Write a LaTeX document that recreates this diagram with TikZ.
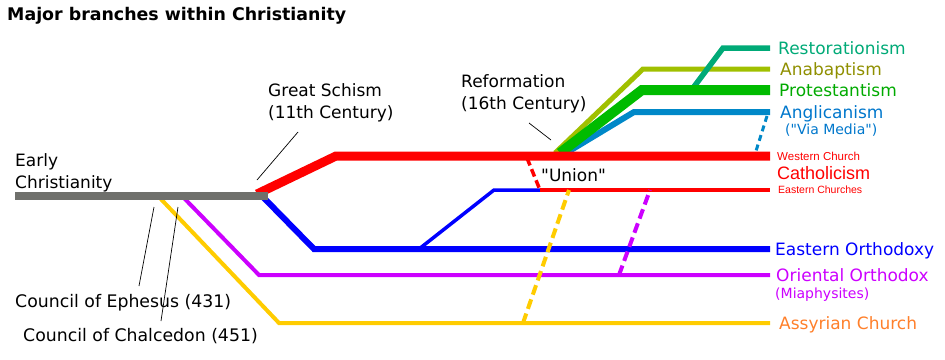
\documentclass[tikz,border=0pt]{standalone}
\usepackage{fontspec}
\setmainfont{DejaVu Sans}[Ligatures=TeXOff]
\newfontfamily\arialfont{Liberation Sans}
\usetikzlibrary{positioning}
\definecolor{earlygray}{HTML}{6F706C}
\definecolor{westred}{HTML}{FF0000}
\definecolor{eastblue}{HTML}{0000FF}
\definecolor{orientpurple}{HTML}{CC00FF}
\definecolor{assyryellow}{HTML}{FFCC00}
\definecolor{assyrorange}{HTML}{FF7F2A}
\definecolor{protgreen}{HTML}{00BB00}
\definecolor{prottext}{HTML}{00AA00}
\definecolor{anabline}{HTML}{A0C000}
\definecolor{anabtext}{HTML}{8F8F00}
\definecolor{restteal}{HTML}{00AA77}
\definecolor{anglline}{HTML}{0088C8}
\definecolor{angltext}{HTML}{0077CC}
\tikzstyle{branch} = [line width=4pt,
line join=miter]
\tikzstyle{uniondash} = [dash pattern=on 10pt off 5pt]
\tikzstyle{pointer} = [line width=0.7pt,
draw=black]
\tikzstyle{branchname} = [anchor=west,
inner sep=0pt,
text height=12.4pt,
text depth=0pt,
font=\fontsize{17}{21}\selectfont]
\tikzstyle{subbranch} = [anchor=west,
inner sep=0pt,
text height=10.2pt,
text depth=0pt,
font=\fontsize{14}{17}\selectfont]
\tikzstyle{note} = [align=left,
inner sep=0pt,
anchor=north west,
font=\fontsize{17}{22}\selectfont]
\tikzstyle{council} = [anchor=base west,
inner sep=0pt,
font=\fontsize{17.3}{21}\selectfont]

\begin{document}
\begin{tikzpicture}[x=1pt, y=-1pt]
\useasboundingbox (0,0) rectangle (945,359);

\node (title) [anchor=base west, inner sep=0pt, font=\fontsize{17.4}{21}\selectfont\bfseries] at (7,20) {Major branches within Christianity};

% ends of the lines on the right
\coordinate (restend) at (770,48);
\coordinate (anabend) at (770,69);
\coordinate (protend) at (770,90);
\coordinate (anglend) at (770,112);
\coordinate (westend) at (770,156);
\coordinate (eastchend) at (770,190);
\coordinate (orthend) at (770,249);
\coordinate (orientend) at (770,275);
\coordinate (assyrend) at (770,323);

% Reformation fan
\draw [branch, anglline, line width=6pt] (566,153) -- (634,112) -- (anglend);
\draw [branch, anabline, line width=5pt] (555,153) -- (643,69) -- (anabend);
\draw [branch, restteal, line width=5.5pt] (690,92) -- (723,48) -- (restend);
\draw [branch, protgreen, line width=10pt] (560,153) -- (642,90) -- (protend);
\draw [branch, anglline, line width=3pt, dash pattern=on 6pt off 4pt] (767,116) -- (756,151);

% east and west
\draw [branch, assyryellow] (158,196) -- (279,323) -- (assyrend);
\draw [branch, orientpurple] (182,196) -- (259,275) -- (orientend);
\draw [branch, eastblue, line width=6pt] (262,196) -- (314,249) -- (orthend);
\draw [branch, eastblue, line width=3.5pt] (419,249) -- (494,190) -- (540,190);
\draw [branch, westred, line width=9pt] (257,194) -- (336,156) -- (westend);
\draw [branch, westred, line width=3.5pt, dash pattern=on 8pt off 4pt] (527,158) -- (540,190);
\draw [branch, westred] (540,190) -- (eastchend);
\draw [branch, assyryellow, uniondash] (523,323) -- (569,190);
\draw [branch, orientpurple, uniondash] (619,275) -- (650,190);
\draw [earlygray, line width=8pt] (15,196) -- (268,196);

% labels
\node (rest) [branchname, restteal, right=8pt of restend] {Restorationism};
\node (anab) [branchname, anabtext, right=10pt of anabend] {Anabaptism};
\node (prot) [branchname, prottext, right=9pt of protend] {Protestantism};
\node (angl) [branchname, angltext, right=10pt of anglend] {Anglicanism};
\node (viamedia) [subbranch, angltext] at (785,129) {("Via Media")};
\node (western) [anchor=west, inner sep=0pt, westred, font=\arialfont\fontsize{11.5}{12}\selectfont, right=7pt of westend] {Western Church};
\node (catholic) [anchor=west, inner sep=0pt, westred, font=\arialfont\fontsize{18}{20}\selectfont] at (777,173) {Catholicism};
\node (eastch) [anchor=west, inner sep=0pt, westred, font=\arialfont\fontsize{10.5}{12}\selectfont, right=8pt of eastchend] {Eastern Churches};
\node (orth) [branchname, eastblue, right=5pt of orthend] {Eastern Orthodoxy};
\node (orient) [branchname, orientpurple, right=6pt of orientend] {Oriental Orthodox};
\node (miaph) [subbranch, orientpurple] at (775,293) {(Miaphysites)};
\node (assyr) [branchname, assyrorange, right=9pt of assyrend] {Assyrian Church};

\node (early) [note] at (15,153) {Early\\Christianity};
\node (schism) [note] at (268,83) {Great Schism\\(11th Century)};
\node (reform) [note] at (461,74) {Reformation\\(16th Century)};
\node (unionlbl) [council, font=\fontsize{17}{21}\selectfont] at (541,181) {"Union"};
\node (ephesus) [council] at (15,307) {Council of Ephesus (431)};
\node (chalcedon) [council] at (23,341) {Council of Chalcedon (451)};

% pointers
\coordinate (schismtop) at (298,132);
\coordinate (schismtip) at (257,180);
\coordinate (reformtop) at (529,123);
\coordinate (reformtip) at (551,140);
\coordinate (ephesustip) at (154,207);
\coordinate (ephesusfoot) at (139,286);
\coordinate (chalcedontip) at (178,207);
\coordinate (chalcedonfoot) at (161,321);
\draw [pointer] (schismtop) -- (schismtip);
\draw [pointer] (reformtop) -- (reformtip);
\draw [pointer] (ephesusfoot) -- (ephesustip);
\draw [pointer] (chalcedonfoot) -- (chalcedontip);

\end{tikzpicture}
\end{document}
